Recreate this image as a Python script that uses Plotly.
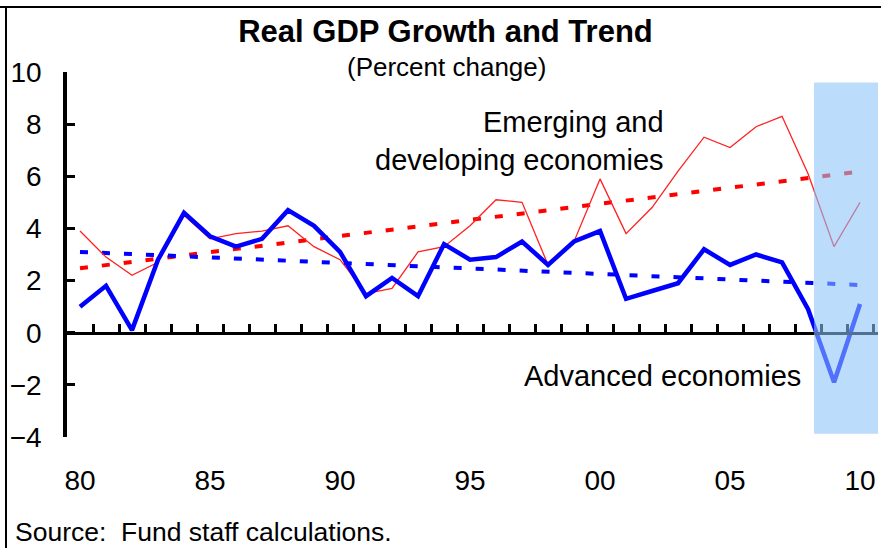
import plotly.graph_objects as go

# ---------------- data ----------------
years = list(range(1980, 2011))
advanced = [1.0, 1.8, 0.1, 2.8, 4.6, 3.7, 3.3, 3.6, 4.7, 4.1,
            3.1, 1.4, 2.1, 1.4, 3.4, 2.8, 2.9, 3.5, 2.6, 3.5,
            3.9, 1.3, 1.6, 1.9, 3.2, 2.6, 3.0, 2.7, 0.9, -1.9, 1.1]
emerging = [3.9, 2.9, 2.2, 2.7, 4.5, 3.6, 3.8, 3.9, 4.1, 3.3,
            2.8, 1.5, 1.7, 3.1, 3.3, 4.1, 5.1, 5.0, 2.6, 3.5,
            5.9, 3.8, 4.8, 6.2, 7.5, 7.1, 7.9, 8.3, 6.1, 3.3, 5.0]
trend_years = [1980, 2010]
advanced_trend = [3.1, 1.83]
emerging_trend = [2.47, 6.18]
tick_years = [1980, 1985, 1990, 1995, 2000, 2005, 2010]
tick_labels = ["80", "85", "90", "95", "00", "05", "10"]
y_ticks = [-4, -2, 0, 2, 4, 6, 8, 10]
shade_years = [2008.23, 2010.69]
shade_values = [-3.88, 9.6]

# ---------------- layout constants ----------------
W, H = 881, 548
ML, MR, MT, MB = 67, 3, 72, 111
PW, PH = W - ML - MR, H - MT - MB
XR = [1979.5, 2010.69]
YR = [-4, 10]
FONT = "Liberation Sans, Arial, sans-serif"


def px_x(p):
    return (p - ML) / PW


def px_y(p):
    return (H - MB - p) / PH


fig = go.Figure()

fig.add_trace(go.Scatter(x=trend_years, y=emerging_trend, mode="lines",
                         line=dict(color="#ff0000", width=4, dash="8px,14px"),
                         hoverinfo="skip", showlegend=False))
fig.add_trace(go.Scatter(x=trend_years, y=advanced_trend, mode="lines",
                         line=dict(color="#0000ff", width=4, dash="8px,14px"),
                         hoverinfo="skip", showlegend=False))
fig.add_trace(go.Scatter(x=years, y=emerging, mode="lines",
                         line=dict(color="#ff2020", width=1.3),
                         name="Emerging and developing economies", showlegend=False))
fig.add_trace(go.Scatter(x=years, y=advanced, mode="lines",
                         line=dict(color="#0000ff", width=4.5),
                         name="Advanced economies", showlegend=False))
# dummy trace to carry the zero-line axis
fig.add_trace(go.Scatter(x=[years[0]], y=[0], xaxis="x2", mode="lines",
                         line=dict(width=0), hoverinfo="skip", showlegend=False))

# shaded forecast region
fig.add_shape(type="rect", xref="x", yref="y",
              x0=shade_years[0], x1=shade_years[1],
              y0=shade_values[0], y1=shade_values[1],
              fillcolor="rgb(140,195,250)", opacity=0.58,
              line=dict(width=0), layer="above")

# frame lines (top, left)
fig.add_shape(type="line", xref="paper", yref="paper",
              x0=px_x(0), x1=px_x(W), y0=px_y(7), y1=px_y(7),
              line=dict(color="black", width=2))
fig.add_shape(type="line", xref="paper", yref="paper",
              x0=px_x(6), x1=px_x(6), y0=px_y(7), y1=px_y(H),
              line=dict(color="black", width=2))

fig.update_layout(
    width=W, height=H,
    margin=dict(l=ML, r=MR, t=MT, b=MB, autoexpand=False),
    paper_bgcolor="white", plot_bgcolor="white",
    font=dict(family=FONT, color="black", size=28),
    title=dict(text="<b>Real GDP Growth and Trend</b>",
               x=445.5 / W, xanchor="center",
               y=1 - 31 / H, yanchor="middle", yref="container",
               font=dict(size=31, family=FONT, color="black")),
    xaxis=dict(range=XR, showgrid=False, zeroline=False, showline=False,
               tickvals=tick_years, ticktext=tick_labels,
               ticks="outside", ticklen=18, tickcolor="rgba(0,0,0,0)",
               tickfont=dict(size=28)),
    xaxis2=dict(range=XR, overlaying="x", anchor="free",
                position=(0 - YR[0]) / (YR[1] - YR[0]), side="bottom",
                showgrid=False, zeroline=False, showline=True,
                linecolor="black", linewidth=3,
                tickvals=[y + 0.5 for y in years], showticklabels=False,
                ticks="inside", ticklen=8, tickwidth=3, tickcolor="black"),
    yaxis=dict(range=YR, showgrid=False, zeroline=False, showline=True,
               linecolor="black", linewidth=3.5,
               tickvals=y_ticks, ticks="inside", ticklen=8, tickwidth=3,
               tickcolor="black", tickfont=dict(size=28),
               ticklabelstandoff=16),
)

fig.add_annotation(text="(Percent change)", xref="paper", yref="paper",
                   x=px_x(446), y=px_y(67), xanchor="center",
                   yanchor="middle", showarrow=False, font=dict(size=26))
fig.add_annotation(text="Emerging and<br>developing economies", xref="x", yref="y",
                   x=2002.55, y=7.35, xanchor="right", yanchor="middle",
                   align="right", showarrow=False, font=dict(size=29))
fig.add_annotation(text="Advanced economies", xref="x", yref="y",
                   x=2002.4, y=-1.66, xanchor="center", yanchor="middle",
                   showarrow=False, font=dict(size=29))
fig.add_annotation(text="Source:  Fund staff calculations.", xref="paper", yref="paper",
                   x=px_x(13), y=px_y(532), xanchor="left", yanchor="middle",
                   showarrow=False, font=dict(size=26.5))

fig.write_html("out.html", config={"displayModeBar": False},
               post_script="document.body.style.margin='0';document.body.style.padding='0';")
